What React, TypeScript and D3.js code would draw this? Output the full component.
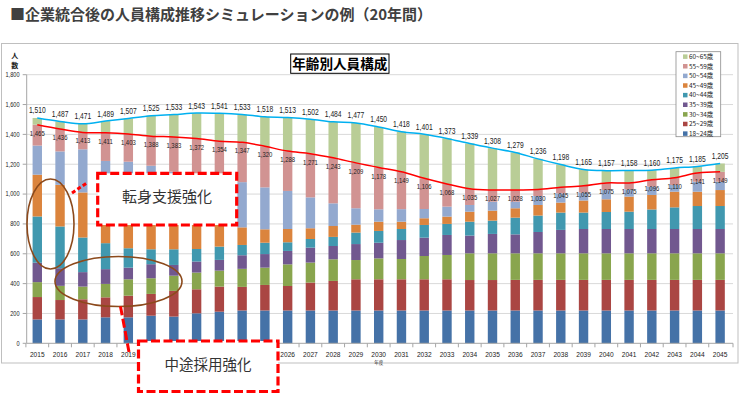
import React from 'react';
import * as d3 from 'd3';

const years = ['2015','2016','2017','2018','2019','2020','2021','2022','2023','2024','2025','2026','2027','2028','2029','2030','2031','2032','2033','2034','2035','2036','2037','2038','2039','2040','2041','2042','2043','2044','2045'];

const age18 = [160,160,160,174,174,185,179,201,212,220,220,220,220,220,220,220,220,220,220,220,220,220,220,220,220,220,220,220,220,220,220];
const age25 = [150,130,135,134,145,146,172,161,168,158,171,164,187,198,209,209,209,209,209,204,204,205,205,205,205,205,205,205,205,205,205];
const age30 = [100,95,85,90,110,105,102,112,107,121,116,145,134,145,129,140,136,156,163,179,179,178,178,178,178,178,178,178,178,178,178];
const age35 = [130,118,97,99,78,94,72,74,72,91,91,90,100,89,107,105,127,123,134,119,130,127,143,157,163,163,163,163,163,163,163];
const age40 = [310,280,232,174,130,100,105,84,89,69,76,58,58,61,77,79,74,85,74,93,89,112,110,116,110,114,116,131,145,154,154];
const age45 = [280,279,302,329,323,290,250,208,162,118,90,89,72,73,53,62,49,45,49,67,67,63,71,67,81,85,101,97,105,96,107];
const age50 = [195,224,289,222,257,270,270,290,300,303,281,255,207,152,110,83,84,62,67,45,60,44,60,62,53,62,49,56,45,67,56];
const age55 = [140,150,113,189,186,198,233,242,244,267,275,267,293,305,304,280,250,206,152,108,78,79,43,40,45,48,43,46,49,58,66];
const age60 = [45,51,58,78,104,137,150,171,187,186,198,225,231,241,268,272,269,295,305,304,281,251,206,153,110,82,83,64,65,44,56];

const seriesNames = ['18~24歳','25~29歳','30~34歳','35~39歳','40~44歳','45~49歳','50~54歳','55~59歳','60~65歳'];
const seriesValues = [age18, age25, age30, age35, age40, age45, age50, age55, age60];
const yTicks = [0,200,400,600,800,1000,1200,1400,1600,1800];

const colors = ['#4572A7','#AA4643','#89A54E','#71588F','#4198AF','#DB843D','#93A9CF','#D19392','#B9CD96'];

const NUM_FONT = '"Liberation Sans", Arial, sans-serif';
const JP_FONT = '"Noto Sans CJK JP", "Noto Sans", sans-serif';

export default function App() {
  const table = years.map((y, i) => {
    const row: any = { year: y };
    seriesNames.forEach((n, k) => { row[n] = seriesValues[k][i]; });
    return row;
  });
  const stacked = d3.stack().keys(seriesNames)(table);

  const x = d3.scaleBand().domain(years).range([25.9, 731.5]).paddingInner(0.587).paddingOuter(0.2935);
  const y = d3.scaleLinear().domain([0, 1800]).range([343.3, 74.7]);
  const cx = (yr: string) => (x(yr) as number) + x.bandwidth() / 2;

  const totals = years.map((yr, i) => ({ yr, v: d3.sum(seriesValues, s => s[i]) }));
  const excl = years.map((yr, i) => ({ yr, v: d3.sum(seriesValues.slice(0, 8), s => s[i]) }));

  const line = d3.line<{ yr: string; v: number }>()
    .x(d => cx(d.yr))
    .y(d => y(d.v))
    .curve(d3.curveCardinal.tension(0));

  const fmt = d3.format(',');
  const x0 = 26.7, x1 = 733;

  const legendTop = 51.7;
  const legendStep = 9.62;

  // the lower annotation box hides these year labels in the reference
  const box2 = { x: 138.5, y: 341, w: 139.5, h: 50.5 };
  const visibleYears = years.filter(yr => cx(yr) < box2.x - 4 || cx(yr) > box2.x + box2.w + 4);

  return (
    <svg width={740} height={394} style={{ position: 'absolute', left: 0, top: 0, background: '#fff' }}>
      <rect x={0} y={0} width={740} height={394} fill="#fff" />
      {/* page title */}
      <text x={10} y={19.5} fontFamily={JP_FONT} fontWeight={700} fontSize={15} fill="#404040">■企業統合後の人員構成推移シミュレーションの例（20年間）</text>

      {/* chart frame */}
      <rect x={1.5} y={43.5} width={736.5} height={319.5} fill="#fff" stroke="#BFBFBF" strokeWidth={1} />

      {/* gridlines */}
      {yTicks.filter(t => t > 0).map(t => (
        <line key={t} x1={x0} x2={x1} y1={y(t)} y2={y(t)} stroke="#D9D9D9" strokeWidth={1} />
      ))}

      {/* y axis */}
      <line x1={x0} x2={x0} y1={y(1800)} y2={y(0)} stroke="#A6A6A6" strokeWidth={1} />
      {yTicks.map(t => (
        <g key={t}>
          <line x1={x0 - 4} x2={x0} y1={y(t)} y2={y(t)} stroke="#A6A6A6" strokeWidth={1} />
          <text transform={`translate(19.5,${y(t) + 2.3}) scale(0.8,1)`} textAnchor="end" fontFamily={NUM_FONT} fontSize={7} fill="#222">{fmt(t)}</text>
        </g>
      ))}
      <text x={14.7} y={58} textAnchor="middle" fontFamily={JP_FONT} fontWeight={700} fontSize={7} fill="#222">人</text>
      <text x={14.7} y={68} textAnchor="middle" fontFamily={JP_FONT} fontWeight={700} fontSize={7} fill="#222">数</text>

      {/* bars */}
      {stacked.map((s, k) => (
        <g key={s.key} fill={colors[k]}>
          {s.map((d, i) => (
            <rect key={i} x={x(years[i])} width={x.bandwidth()} y={y(d[1])} height={y(d[0]) - y(d[1])} />
          ))}
        </g>
      ))}

      {/* x axis */}
      <line x1={x0} x2={x1} y1={y(0)} y2={y(0)} stroke="#A6A6A6" strokeWidth={1} />
      {years.map(yr => (
        <line key={yr} x1={(x(yr) as number) - x.step() * 0.2935} x2={(x(yr) as number) - x.step() * 0.2935} y1={y(0)} y2={y(0) + 4} stroke="#A6A6A6" strokeWidth={1} />
      ))}
      <line x1={x1} x2={x1} y1={y(0)} y2={y(0) + 4} stroke="#A6A6A6" strokeWidth={1} />
      {visibleYears.map(yr => (
        <text key={yr} transform={`translate(${cx(yr)},${y(0) + 13.5}) scale(0.88,1)`} textAnchor="middle" fontFamily={NUM_FONT} fontSize={7.5} fill="#222">{yr}</text>
      ))}
      <text x={cx('2030')} y={364} textAnchor="middle" fontFamily={JP_FONT} fontSize={4.5} fill="#222">年度</text>

      {/* lines */}
      <path d={line(excl) as string} fill="none" stroke="#FF0000" strokeWidth={1.5} />
      <path d={line(totals) as string} fill="none" stroke="#00B0F0" strokeWidth={1.5} />

      {/* labels */}
      {totals.map(d => (
        <text key={'t' + d.yr} transform={`translate(${cx(d.yr)},${y(d.v) - 4.5}) scale(0.78,1)`} textAnchor="middle" fontFamily={NUM_FONT} fontSize={8.6} fill="#222">{fmt(d.v)}</text>
      ))}
      {excl.map(d => (
        <text key={'e' + d.yr} transform={`translate(${cx(d.yr)},${y(d.v) + 11}) scale(0.85,1)`} textAnchor="middle" fontFamily={NUM_FONT} fontSize={7} fill="#222">{fmt(d.v)}</text>
      ))}

      {/* legend */}
      <rect x={676} y={legendTop} width={44.7} height={85} fill="#fff" stroke="#8C8C8C" strokeWidth={0.8} />
      {seriesNames.slice().reverse().map((n, j) => {
        const k = seriesNames.length - 1 - j;
        const yy = legendTop + 5 + j * legendStep;
        return (
          <g key={n}>
            <rect x={683} y={yy - 2.3} width={4.5} height={4.5} fill={colors[k]} />
            <text x={689} y={yy + 2.3} fontFamily={JP_FONT} fontSize={6.4} fill="#222">{n}</text>
          </g>
        );
      })}

      {/* chart title */}
      <rect x={290.7} y={54} width={98.3} height={19.3} fill="#fff" stroke="#000" strokeWidth={1} />
      <text x={339.8} y={68.7} textAnchor="middle" fontFamily={JP_FONT} fontWeight={700} fontSize={13.6} fill="#000">年齢別人員構成</text>

      {/* annotations */}
      <ellipse cx={50.5} cy={224} rx={23.5} ry={45} fill="none" stroke="#8C4A1C" strokeWidth={1.6} />
      <ellipse cx={118.5} cy={281.5} rx={63.5} ry={25} fill="none" stroke="#8C4A1C" strokeWidth={1.6} />

      <line x1={72} y1={193} x2={87.5} y2={182.5} stroke="#FF0000" strokeWidth={3} strokeDasharray="4,2.5" />
      <rect x={97.7} y={173.3} width={139} height={51.7} fill="#fff" stroke="#FF0000" strokeWidth={3.2} strokeDasharray="9,3.5" />
      <text x={167} y={202} textAnchor="middle" fontFamily={JP_FONT} fontSize={15} fill="#333">転身支援強化</text>

      <line x1={120.5} y1={306.5} x2={129} y2={352} stroke="#FF0000" strokeWidth={3} strokeDasharray="9,3.5" />
      <rect x={box2.x} y={box2.y} width={box2.w} height={box2.h} fill="#fff" stroke="#FF0000" strokeWidth={3.2} strokeDasharray="9,3.5" />
      <text x={208} y={370} textAnchor="middle" fontFamily={JP_FONT} fontSize={14.5} fill="#333">中途採用強化</text>
    </svg>
  );
}
